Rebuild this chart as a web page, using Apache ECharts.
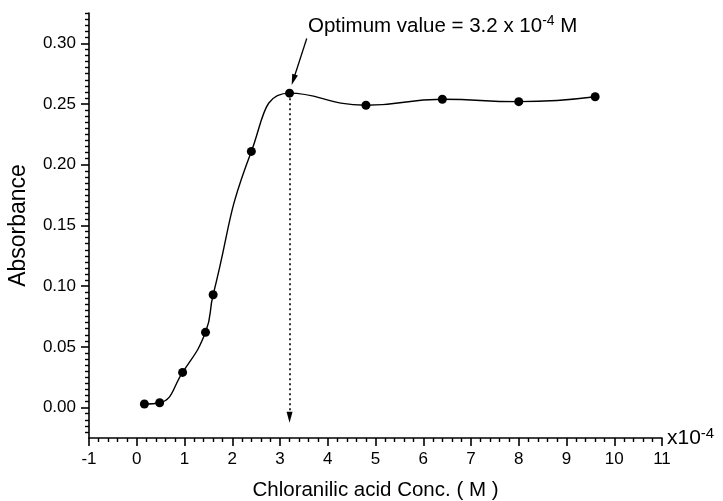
<!DOCTYPE html>
<html>
<head>
<meta charset="utf-8">
<script src="https://cdn.jsdelivr.net/npm/echarts@6/dist/echarts.min.js"></script>
<style>
  html, body { margin: 0; padding: 0; background: #fff; }
  #chart { width: 723px; height: 501px; }
</style>
</head>
<body>
<div id="chart"></div>
<script>
// Chloranilic acid concentration, in units of 10^-4 M
const concentration = [0.16, 0.48, 0.96, 1.44, 1.6, 2.4, 3.2, 4.8, 6.4, 8.0, 9.6];
// Measured absorbance at each concentration
const absorbance = [0.003, 0.004, 0.029, 0.062, 0.093, 0.211, 0.259, 0.249, 0.254, 0.252, 0.256];
// Labelled ticks on the absorbance axis
const absorbanceTicks = [0, 0.05, 0.10, 0.15, 0.20, 0.25, 0.30];
// Index of the optimum concentration
const optimumIndex = 6;

const FONT = '"Liberation Sans", Arial, sans-serif';
const optX = concentration[optimumIndex];
const optY = absorbance[optimumIndex];

const chart = echarts.init(document.getElementById('chart'), null, { renderer: 'canvas' });

chart.setOption({
  animation: false,
  backgroundColor: '#ffffff',
  textStyle: { fontFamily: FONT, color: '#000' },
  grid: { left: 89, right: 61, top: 13, bottom: 63, containLabel: false, outerBoundsMode: 'none' },
  xAxis: {
    type: 'value',
    min: -1,
    max: 11,
    splitNumber: 12,
    name: 'Chloranilic acid Conc. ( M )',
    nameLocation: 'middle',
    nameGap: 42,
    nameTextStyle: { fontSize: 20.5, fontFamily: FONT, color: '#000' },
    axisLine: { show: true, onZero: false, lineStyle: { color: '#000', width: 1.6 } },
    axisTick: { show: true, inside: false, length: 8, lineStyle: { color: '#000', width: 1.6 } },
    minorTick: { show: true, splitNumber: 5, length: 4, lineStyle: { color: '#000', width: 1.4 } },
    axisLabel: { fontSize: 17, fontFamily: FONT, color: '#000', margin: 13 },
    splitLine: { show: false },
    minorSplitLine: { show: false }
  },
  yAxis: {
    type: 'value',
    min: -0.025,
    max: 0.325,
    splitNumber: 7,
    name: 'Absorbance',
    nameLocation: 'middle',
    nameGap: 59,
    nameTextStyle: { fontSize: 23, fontFamily: FONT, color: '#000' },
    axisLine: { show: true, onZero: false, lineStyle: { color: '#000', width: 1.6 } },
    axisTick: {
      show: true, inside: false, length: 8,
      customValues: absorbanceTicks,
      lineStyle: { color: '#000', width: 1.6 }
    },
    minorTick: { show: true, splitNumber: 10, length: 4, lineStyle: { color: '#000', width: 1.4 } },
    axisLabel: {
      fontSize: 17, fontFamily: FONT, color: '#000', margin: 13,
      customValues: absorbanceTicks,
      formatter: v => v.toFixed(2)
    },
    splitLine: { show: false },
    minorSplitLine: { show: false }
  },
  series: [{
    type: 'line',
    data: concentration.map((x, i) => [x, absorbance[i]]),
    smooth: 0.5,
    symbol: 'circle',
    symbolSize: 9,
    itemStyle: { color: '#000' },
    lineStyle: { color: '#000', width: 1.4 },
    z: 3,
    markLine: {
      silent: true,
      animation: false,
      label: { show: false },
      symbol: ['none', 'triangle'],
      symbolSize: [6, 11],
      data: [
        // dotted drop line from the optimum point to the concentration axis
        [
          { coord: [optX, optY], lineStyle: { type: [2, 3], width: 1.6, color: '#000' } },
          { coord: [optX, -0.008] }
        ],
        // pointer from the annotation to the optimum point
        [
          { coord: [3.56, 0.304], lineStyle: { type: 'solid', width: 1.3, color: '#000' } },
          { coord: [3.28, 0.270] }
        ]
      ]
    }
  }],
  graphic: [
    {
      type: 'text',
      left: 308,
      top: 14,
      style: {
        text: 'Optimum value = ' + optX + ' x 10{sup|-4} M',
        font: '20.5px ' + FONT,
        fill: '#000',
        rich: {
          sup: { fontSize: 14, fontFamily: FONT, fill: '#000', verticalAlign: 'top', lineHeight: 24 }
        },
        lineHeight: 24
      }
    },
    {
      type: 'text',
      left: 667,
      top: 426,
      style: {
        text: 'x10{sup|-4}',
        font: '21px ' + FONT,
        fill: '#000',
        rich: {
          sup: { fontSize: 15, fontFamily: FONT, fill: '#000', verticalAlign: 'top', lineHeight: 24 }
        },
        lineHeight: 24
      }
    }
  ]
});
</script>
</body>
</html>
